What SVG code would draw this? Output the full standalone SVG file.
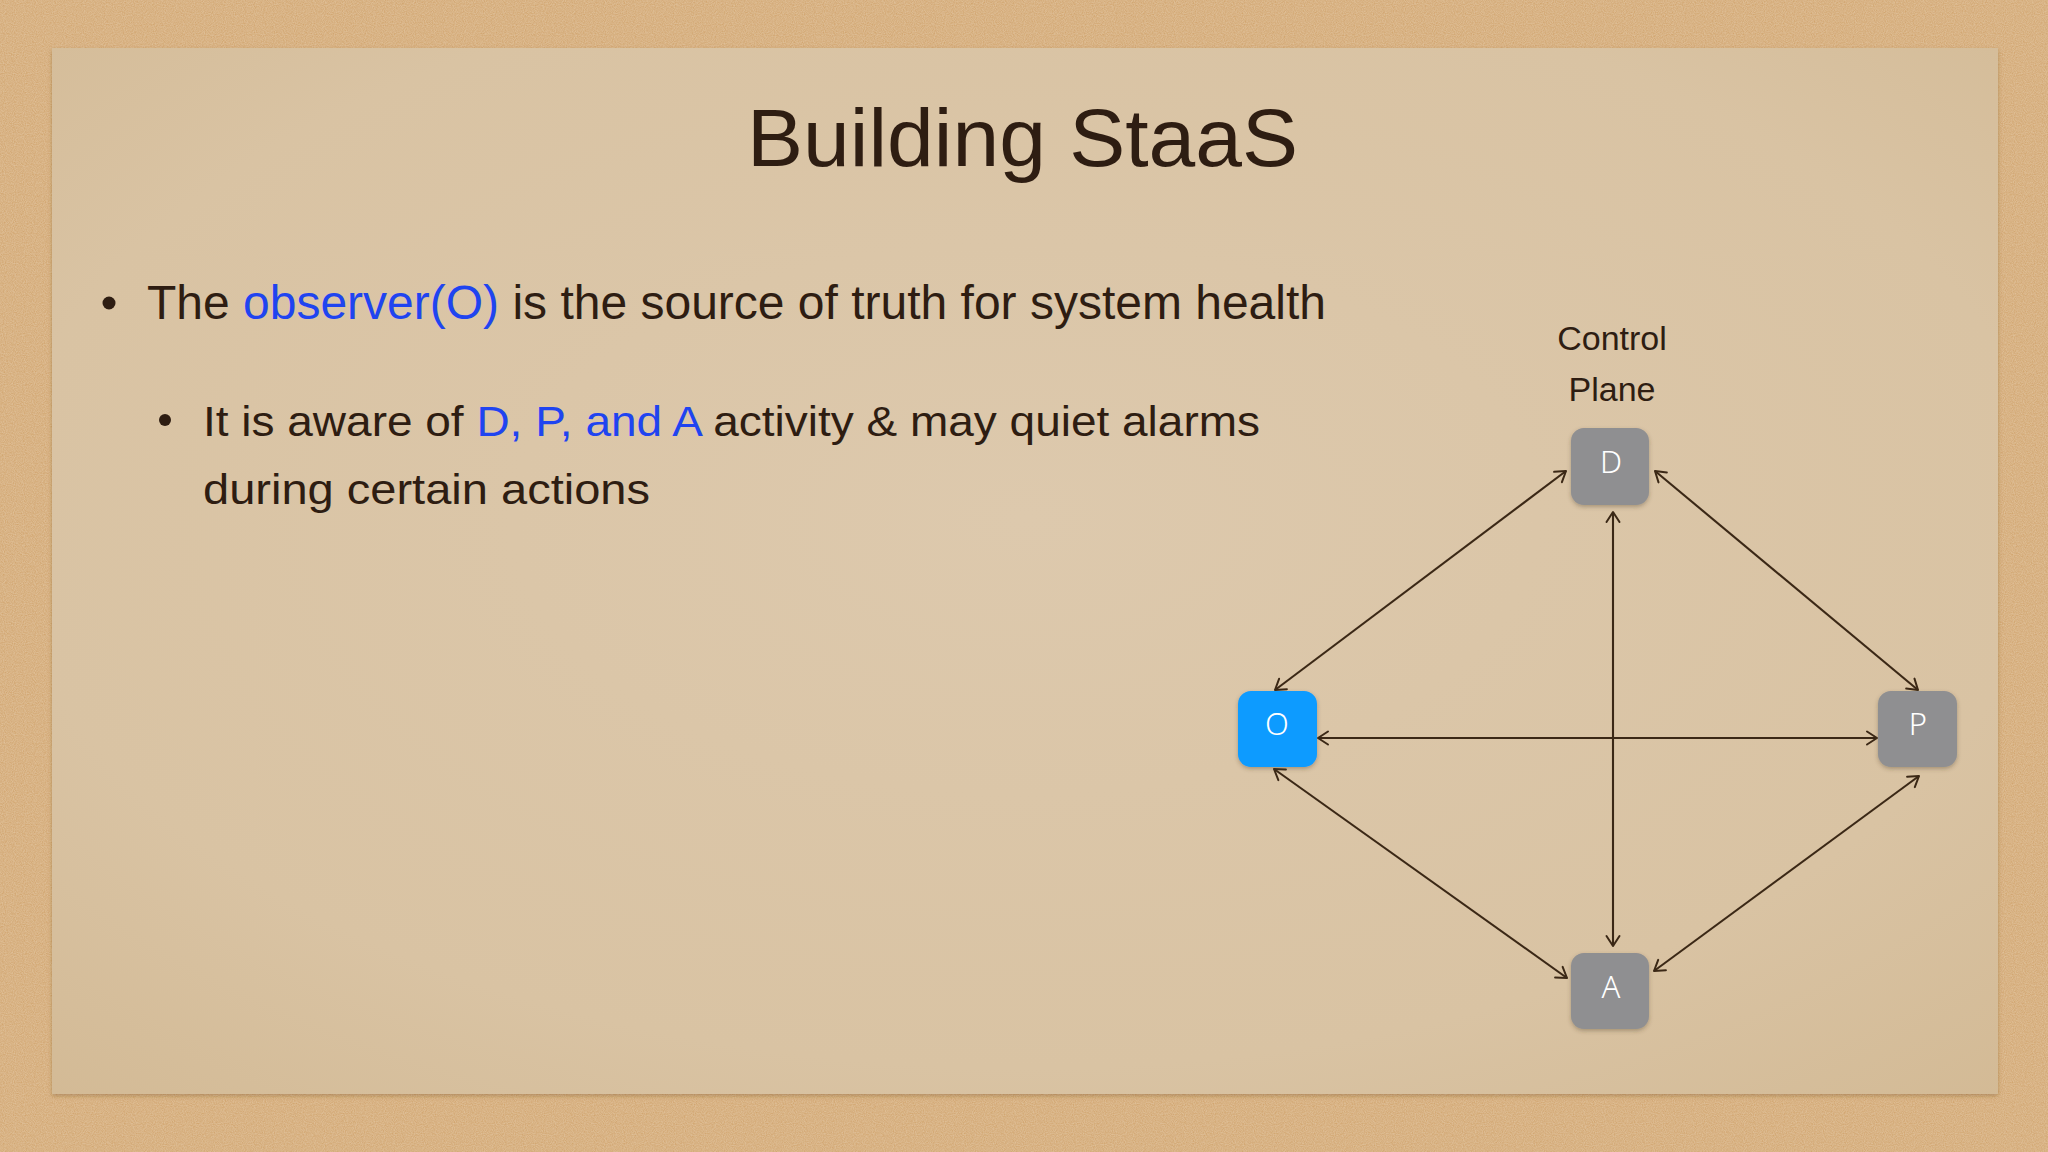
<svg xmlns="http://www.w3.org/2000/svg" width="2048" height="1152" viewBox="0 0 2048 1152">
<defs>
  <radialGradient id="paperG" cx="0.5" cy="0.45" r="0.75">
    <stop offset="0" stop-color="#ddc9ad"/>
    <stop offset="0.7" stop-color="#d9c3a3"/>
    <stop offset="1" stop-color="#d3ba95"/>
  </radialGradient>
  <filter id="grain" x="0" y="0" width="100%" height="100%">
    <feTurbulence type="fractalNoise" baseFrequency="0.9" numOctaves="2" seed="3" result="n"/>
    <feColorMatrix in="n" type="matrix" values="0 0 0 0 0.93  0 0 0 0 0.80  0 0 0 0 0.60  0 0 0 0.45 -0.05" result="c"/>
    <feComposite in="c" in2="SourceGraphic" operator="in" result="m"/>
    <feMerge><feMergeNode in="SourceGraphic"/><feMergeNode in="m"/></feMerge>
  </filter>
  <filter id="paperShadow" x="-5%" y="-5%" width="110%" height="110%">
    <feDropShadow dx="0" dy="2" stdDeviation="2" flood-color="#6b4a22" flood-opacity="0.35"/>
  </filter>
  <filter id="nodeShadow" x="-20%" y="-20%" width="140%" height="150%">
    <feDropShadow dx="0" dy="2" stdDeviation="2" flood-color="#4a3a28" flood-opacity="0.35"/>
  </filter>
  <marker id="ah" viewBox="-12 -8 14 16" refX="0" refY="0" markerWidth="14" markerHeight="16" markerUnits="userSpaceOnUse" orient="auto-start-reverse">
    <path d="M-10,-6.5 L0,0 L-10,6.5" fill="none" stroke="#3b2816" stroke-width="2" stroke-linecap="round" stroke-linejoin="round"/>
  </marker>
</defs>
<style>
  .txt { font-family: "Liberation Sans", Arial, sans-serif; fill: #2e1d12; }
  .blue { fill: #1f44f0; }
  .node rect { stroke: none; filter: url(#nodeShadow); }
  .gray { fill: #8f8f91; }
  .obs { fill: #0a9bff; }
  .lbl { font-family: "Noto Sans", "DejaVu Sans", sans-serif; font-weight: 300; font-size: 31px; fill: #ffffff; text-anchor: middle; }
  .conn line { stroke: #3b2816; stroke-width: 2.1; marker-start: url(#ah); marker-end: url(#ah); }
</style>

<!-- background -->
<rect x="0" y="0" width="2048" height="1152" fill="#d2a66f" filter="url(#grain)"/>
<rect x="52" y="48" width="1946" height="1046" fill="url(#paperG)" filter="url(#paperShadow)"/>

<!-- title -->
<text id="title" class="txt" x="747" y="166" font-size="81" textLength="551" lengthAdjust="spacingAndGlyphs">Building StaaS</text>

<!-- bullets -->
<g id="bullets">
  <circle cx="109" cy="303" r="6.5" fill="#2e1d12"/>
  <text class="txt" x="147" y="319" font-size="48" textLength="1179" lengthAdjust="spacingAndGlyphs">The <tspan class="blue">observer(O)</tspan> is the source of truth for system health</text>
  <circle cx="165" cy="420" r="6" fill="#2e1d12"/>
  <text class="txt" x="203" y="436" font-size="43" textLength="1057" lengthAdjust="spacingAndGlyphs">It is aware of <tspan class="blue">D, P, and A</tspan> activity &amp; may quiet alarms</text>
  <text class="txt" x="203" y="504" font-size="43" textLength="447" lengthAdjust="spacingAndGlyphs">during certain actions</text>
</g>

<!-- connectors -->
<g id="connectors" class="conn">
  <line x1="1318" y1="738" x2="1877" y2="738"/>
  <line x1="1613" y1="512" x2="1613" y2="946"/>
  <line x1="1566" y1="471" x2="1275" y2="690"/>
  <line x1="1655" y1="471" x2="1918" y2="690"/>
  <line x1="1274" y1="769" x2="1567" y2="978"/>
  <line x1="1919" y1="776" x2="1654" y2="971"/>
</g>

<!-- nodes -->
<g id="node-D" class="node">
  <rect class="gray" x="1571" y="428" width="78" height="77" rx="13"/>
  <text class="lbl" x="1611" y="473">D</text>
</g>
<g id="label-control-plane">
  <text class="txt" x="1612" y="350" font-size="34" text-anchor="middle">Control</text>
  <text class="txt" x="1612" y="401" font-size="34" text-anchor="middle">Plane</text>
</g>
<g id="node-O" class="node">
  <rect class="obs" x="1238" y="691" width="79" height="76" rx="13"/>
  <text class="lbl" x="1277" y="735">O</text>
</g>
<g id="node-P" class="node">
  <rect class="gray" x="1878" y="691" width="79" height="76" rx="13"/>
  <text class="lbl" x="1918" y="735">P</text>
</g>
<g id="node-A" class="node">
  <rect class="gray" x="1571" y="953" width="78" height="76" rx="13"/>
  <text class="lbl" x="1611" y="998">A</text>
</g>
</svg>
